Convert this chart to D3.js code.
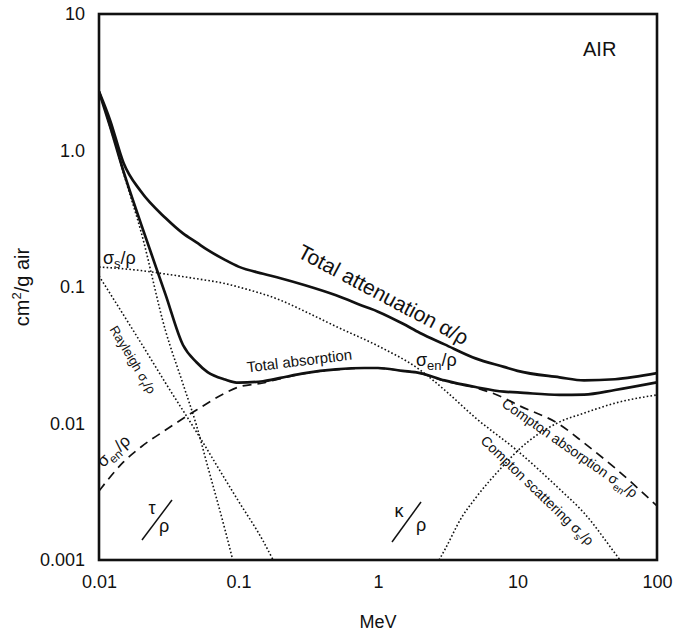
<!DOCTYPE html>
<html>
<head>
<meta charset="utf-8">
<script src="https://cdnjs.cloudflare.com/ajax/libs/d3/7.8.5/d3.min.js"></script>
<style>
  body { margin: 0; background: #fff; }
  svg { display: block; }
</style>
</head>
<body>
<svg width="678" height="636"></svg>
<script>
// axis ticks
var energyTicks = [0.01, 0.1, 1, 10, 100]
var energyLabels = ["0.01", "0.1", "1", "10", "100"]
var valueTicks = [0.001, 0.01, 0.1, 1, 10]
var valueLabels = ["0.001", "0.01", "0.1", "1.0", "10"]

// total attenuation alpha/rho (solid)
var attenE = [0.01, 0.012, 0.015, 0.02, 0.03, 0.04, 0.05, 0.06, 0.08, 0.1, 0.15, 0.2, 0.3, 0.5, 0.8, 1, 1.5, 2, 3, 5, 8, 10, 20, 30, 50, 100]
var attenV = [2.7, 1.67, 0.81, 0.50, 0.32, 0.247, 0.212, 0.187, 0.158, 0.141, 0.125, 0.116, 0.103, 0.087, 0.072, 0.066, 0.054, 0.046, 0.038, 0.030, 0.026, 0.0243, 0.0218, 0.0207, 0.0211, 0.0234]

// total absorption sigma_en/rho (solid)
var absorbE = [0.01, 0.012, 0.015, 0.02, 0.03, 0.04, 0.05, 0.06, 0.08, 0.1, 0.15, 0.2, 0.3, 0.5, 0.8, 1, 1.5, 2, 3, 5, 8, 10, 20, 30, 50, 100]
var absorbV = [2.7, 1.5, 0.70, 0.29, 0.088, 0.0376, 0.0281, 0.0238, 0.0210, 0.0199, 0.0204, 0.0216, 0.0234, 0.0249, 0.0255, 0.0255, 0.0243, 0.0234, 0.0207, 0.0185, 0.0171, 0.0169, 0.0162, 0.0163, 0.0176, 0.0200]

// photoelectric tau/rho (dotted)
var photoE = [0.01, 0.012, 0.015, 0.02, 0.03, 0.04, 0.05, 0.06, 0.08, 0.091]
var photoV = [2.7, 1.49, 0.68, 0.255, 0.0477, 0.0195, 0.00966, 0.00489, 0.00167, 0.001]

// Rayleigh sigma_r/rho (dotted)
var rayE = [0.01, 0.02, 0.03, 0.05, 0.08, 0.1, 0.15, 0.177]
var rayV = [0.1205, 0.0389, 0.0198, 0.00867, 0.00392, 0.0027, 0.00138, 0.001]

// total scattering / Compton scattering sigma_s/rho (dotted)
var scatE = [0.01, 0.02, 0.03, 0.05, 0.08, 0.1, 0.2, 0.3, 0.5, 1, 2, 3, 5, 10, 20, 30, 50, 54.3]
var scatV = [0.140, 0.132, 0.1245, 0.115, 0.106, 0.100, 0.080, 0.0662, 0.0514, 0.0370, 0.0247, 0.0176, 0.0110, 0.0063, 0.00331, 0.00221, 0.00112, 0.001]

// Compton absorption sigma_en/rho (dashed)
var compE = [0.01, 0.015, 0.02, 0.03, 0.05, 0.08, 0.1, 0.15, 0.2, 0.3, 0.5, 0.8, 1, 1.5, 2, 3, 5, 8, 10, 20, 30, 50, 100]
var compV = [0.0032, 0.00523, 0.00673, 0.00896, 0.01256, 0.0167, 0.0185, 0.0198, 0.0213, 0.0233, 0.0248, 0.0254, 0.0254, 0.0243, 0.0233, 0.0205, 0.0183, 0.0154, 0.0137, 0.00984, 0.0072, 0.00472, 0.00249]

// pair production kappa/rho (dotted)
var pairE = [2.74, 3, 4, 5, 8, 10, 20, 30, 50, 100]
var pairV = [0.001, 0.00118, 0.00207, 0.00284, 0.00497, 0.0063, 0.01026, 0.0119, 0.0141, 0.0162]

var font = "'Liberation Sans', Arial, Helvetica, sans-serif"

var svg = d3.select('svg')

var x = d3.scaleLog().domain([0.01, 100]).range([99, 657])
var y = d3.scaleLog().domain([0.001, 10]).range([560, 14])

svg.append('defs').append('clipPath').attr('id', 'plot')
  .append('rect').attr('x', 99).attr('y', 14).attr('width', 558).attr('height', 546)

var line = d3.line()
  .x(function(d){ return x(d[0]) })
  .y(function(d){ return y(d[1]) })
  .curve(d3.curveMonotoneX)

var pairs = function(es, vs){
  return es.map(function(e, i){ return [e, vs[i]] })
}

var curves = svg.append('g').attr('clip-path', 'url(#plot)')

var drawCurve = function(es, vs, width, dash){
  curves.append('path')
    .attr('d', line(pairs(es, vs)))
    .attr('fill', 'none')
    .attr('stroke', '#111')
    .attr('stroke-width', width)
    .attr('stroke-dasharray', dash)
    .attr('stroke-linejoin', 'round')
}

var dots = '1.6,2.2'
drawCurve(photoE, photoV, 1.6, dots)
drawCurve(rayE, rayV, 1.6, dots)
drawCurve(scatE, scatV, 1.6, dots)
drawCurve(pairE, pairV, 1.6, dots)
drawCurve(compE, compV, 1.7, '9,6')
drawCurve(absorbE, absorbV, 2.7, null)
drawCurve(attenE, attenV, 2.7, null)

// frame
svg.append('rect')
  .attr('x', 99).attr('y', 14).attr('width', 558).attr('height', 546)
  .attr('fill', 'none').attr('stroke', '#111').attr('stroke-width', 2.6)

// axes
var xAxis = d3.axisBottom(x).tickValues(energyTicks)
  .tickFormat(function(d, i){ return energyLabels[i] })
  .tickSize(0).tickPadding(15)
var gx = svg.append('g').attr('transform', 'translate(0,560)').call(xAxis)
gx.select('.domain').remove()
gx.selectAll('text').attr('font-size', 18).attr('font-family', font).attr('fill', '#111')

var yAxis = d3.axisLeft(y).tickValues(valueTicks)
  .tickFormat(function(d, i){ return valueLabels[i] })
  .tickSize(0).tickPadding(14)
var gy = svg.append('g').attr('transform', 'translate(99,0)').call(yAxis)
gy.select('.domain').remove()
gy.selectAll('text').attr('font-size', 18).attr('font-family', font).attr('fill', '#111')

svg.append('text').attr('x', 378).attr('y', 628).attr('text-anchor', 'middle')
  .attr('font-size', 18).attr('font-family', font).attr('fill', '#111').text('MeV')

var yt = svg.append('text').attr('transform', 'translate(29,287) rotate(-90)')
  .attr('text-anchor', 'middle').attr('font-size', 20).attr('font-family', font).attr('fill', '#111')
yt.append('tspan').text('cm')
yt.append('tspan').attr('font-size', 13).attr('dy', -8).text('2')
yt.append('tspan').attr('dy', 8).text('/g air')

// labels
var label = function(px, py, angle, size, anchor){
  return svg.append('text')
    .attr('transform', 'translate(' + px + ',' + py + ') rotate(' + angle + ')')
    .attr('text-anchor', anchor).attr('font-size', size)
    .attr('font-family', font).attr('fill', '#111')
}
var sub = function(t, s, size){
  t.append('tspan').attr('font-size', size).attr('dy', 4).text(s)
  return t.append('tspan').attr('dy', -4)
}

label(583, 56, 0, 20, 'start').text('AIR')
label(380, 301, 28, 21, 'middle').text('Total attenuation \u03b1/\u03c1')
label(300, 366, -7, 15, 'middle').text('Total absorption')

var t1 = label(103, 264, 0, 18, 'start')
t1.append('tspan').text('\u03c3')
sub(t1, 's', 13).text('/\u03c1')

var t2 = label(416, 366, 0, 18, 'start')
t2.append('tspan').text('\u03c3')
sub(t2, 'en', 13).text('/\u03c1')

var t3 = label(103, 468, -42, 17, 'start')
t3.append('tspan').text('\u03c3')
sub(t3, 'en', 12).text('/\u03c1')

var t4 = label(129, 362, 59, 13, 'middle')
t4.append('tspan').text('Rayleigh \u03c3')
sub(t4, 'r', 10).text('/\u03c1')

var t5 = label(567, 452, 35, 14, 'middle')
t5.append('tspan').text('Compton absorption \u03c3')
sub(t5, 'en', 10).text('/\u03c1')

var t6 = label(534, 494, 44, 14, 'middle')
t6.append('tspan').text('Compton scattering \u03c3')
sub(t6, 's', 10).text('/\u03c1')

// tau/rho and kappa/rho fraction labels
var slashLabel = function(top, tx, ty, bx, by, x1, y1, x2, y2){
  label(tx, ty, 0, 18, 'middle').text(top)
  label(bx, by, 0, 18, 'middle').text('\u03c1')
  svg.append('line').attr('x1', x1).attr('y1', y1).attr('x2', x2).attr('y2', y2)
    .attr('stroke', '#111').attr('stroke-width', 1.5)
}
slashLabel('\u03c4', 152, 514, 164, 532, 142, 540, 172, 500)
slashLabel('\u03ba', 399, 517, 421, 531, 392, 542, 421, 502)
</script>
</body>
</html>
